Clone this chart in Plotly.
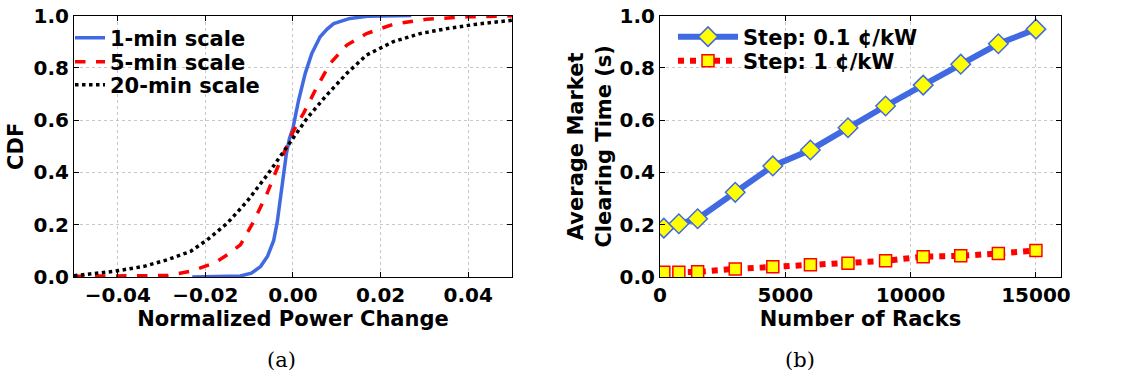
import plotly.graph_objects as go

# ---- Panel (a): CDF of normalized power change ----
cdf1_x = [-0.023, -0.016, -0.012, -0.0095, -0.0074, -0.0058, -0.0044, -0.0036, -0.0029, -0.0022, -0.0015,
          -0.0008, 0.0, 0.0006, 0.0013, 0.0028, 0.0043, 0.0062, 0.0078, 0.0093, 0.013, 0.017, 0.021, 0.027]
cdf1_y = [0.0, 0.001, 0.004, 0.015, 0.04, 0.08, 0.14, 0.21, 0.295, 0.38, 0.473,
          0.53, 0.57, 0.62, 0.677, 0.779, 0.855, 0.919, 0.948, 0.969, 0.989, 0.997, 0.999, 1.0]

cdf5_x = [-0.05, -0.04, -0.0345, -0.0287, -0.0234, -0.018, -0.015, -0.012, -0.009, -0.0059, -0.0036,
          -0.0017, 0.0002, 0.0024, 0.0055, 0.0085, 0.0123, 0.0168, 0.0229, 0.0305, 0.0396, 0.05]
cdf5_y = [0.003, 0.003, 0.004, 0.006, 0.022, 0.053, 0.085, 0.123, 0.212, 0.32, 0.416,
          0.486, 0.562, 0.626, 0.728, 0.817, 0.887, 0.931, 0.967, 0.986, 0.995, 0.999]

cdf20_x = [-0.05, -0.0408, -0.034, -0.0287, -0.0234, -0.0196, -0.015, -0.0105, -0.0059, -0.0021, 0.0002,
           0.0032, 0.0077, 0.0123, 0.0168, 0.0229, 0.029, 0.0351, 0.0419, 0.05]
cdf20_y = [0.005, 0.022, 0.041, 0.066, 0.098, 0.142, 0.206, 0.289, 0.39, 0.48, 0.537,
           0.607, 0.696, 0.779, 0.849, 0.9, 0.931, 0.95, 0.967, 0.982]

# ---- Panel (b): market clearing time ----
racks = [150, 750, 1500, 3000, 4500, 6000, 7500, 9000, 10500, 12000, 13500, 15000]
time_step01 = [0.187, 0.204, 0.223, 0.324, 0.425, 0.486, 0.571, 0.654, 0.734, 0.814, 0.892, 0.948]
time_step1 = [0.018, 0.018, 0.02, 0.031, 0.039, 0.047, 0.053, 0.062, 0.078, 0.081, 0.09, 0.102]

FONT = "DejaVu Sans"
BLUE = "#4169E1"
RED = "#FF0000"

fig = go.Figure()

fig.add_trace(go.Scatter(x=cdf1_x, y=cdf1_y, mode="lines", name="<b>1-min scale</b>",
                         line=dict(color=BLUE, width=3.5), xaxis="x", yaxis="y", legend="legend"))
fig.add_trace(go.Scatter(x=cdf5_x, y=cdf5_y, mode="lines", name="<b>5-min scale</b>",
                         line=dict(color=RED, width=3.5, dash="dash"), xaxis="x", yaxis="y", legend="legend2"))
fig.add_trace(go.Scatter(x=cdf20_x, y=cdf20_y, mode="lines", name="<b>20-min scale</b>",
                         line=dict(color="black", width=3.5, dash="dot"), xaxis="x", yaxis="y", legend="legend3"))

fig.add_trace(go.Scatter(x=racks, y=time_step01, mode="lines+markers", name="<b>Step: 0.1 ¢/kW</b>",
                         line=dict(color=BLUE, width=6),
                         marker=dict(symbol="diamond", size=15, color="#FFFF00", line=dict(color=BLUE, width=1.5)),
                         xaxis="x2", yaxis="y2", legend="legend4"))
fig.add_trace(go.Scatter(x=racks, y=time_step1, mode="lines+markers", name="<b>Step: 1 ¢/kW</b>",
                         line=dict(color=RED, width=6, dash="dot"),
                         marker=dict(symbol="square", size=12, color="#FFFF00", line=dict(color=RED, width=1.5)),
                         xaxis="x2", yaxis="y2", legend="legend5"))

tickfont = dict(family=FONT, size=20, color="black", weight="bold")
titlefont = dict(family=FONT, size=21, color="black", weight="bold")

common_axis = dict(showline=True, linecolor="black", linewidth=1, mirror="allticks",
                   ticks="inside", ticklen=5, tickcolor="black", automargin=False,
                   showgrid=True, gridcolor="#c8c8c8", griddash="dot", gridwidth=1,
                   zeroline=False, tickfont=tickfont)

ydom = [0.269, 0.959]
H = 379.0


def leg(xpx, ypx, iw=30):
    return dict(x=xpx / 1131.0, y=1 - ypx / H, xanchor="left", yanchor="middle",
                bgcolor="rgba(0,0,0,0)", font=dict(family=FONT, size=21, color="black"),
                itemwidth=iw)


fig.update_layout(
    width=1131, height=379,
    margin=dict(l=0, r=0, t=0, b=0),
    paper_bgcolor="white", plot_bgcolor="white",
    font=dict(family=FONT, color="black"),
    xaxis=dict(domain=[0.0654, 0.4527], range=[-0.05, 0.05], dtick=0.02, tick0=0, tickformat=".2f",
               title=dict(text="<b>Normalized Power Change</b>", font=titlefont, standoff=4), anchor="y",
               **common_axis),
    yaxis=dict(domain=ydom, range=[0, 1], dtick=0.2, tickformat=".1f",
               title=dict(text="<b>CDF</b>", font=titlefont, standoff=4), anchor="x", **common_axis),
    xaxis2=dict(domain=[0.5836, 0.9381], range=[0, 16000], dtick=5000, tickformat="d",
                title=dict(text="<b>Number of Racks</b>", font=titlefont, standoff=4), anchor="y2",
                **common_axis),
    yaxis2=dict(domain=ydom, range=[0, 1], dtick=0.2, tickformat=".1f",
                title=dict(text="<b>Average Market<br>Clearing Time (s)</b>", font=titlefont, standoff=2),
                anchor="x2", **common_axis),
    legend=leg(70, 38),
    legend2=leg(70, 62),
    legend3=leg(70, 85),
    legend4=leg(673, 37, 60),
    legend5=leg(673, 61, 60),
    showlegend=True,
    annotations=[
        dict(text="(a)", x=0.2343, y=1 - 360 / H, xref="paper", yref="paper", showarrow=False,
             yanchor="middle", font=dict(family="DejaVu Serif", size=21, color="black")),
        dict(text="(b)", x=0.7228, y=1 - 360 / H, xref="paper", yref="paper", showarrow=False,
             yanchor="middle", font=dict(family="DejaVu Serif", size=21, color="black")),
    ],
)

fig.write_html("out.html", config={"displayModeBar": False},
               post_script="document.body.style.margin='0';document.body.style.padding='0';")
